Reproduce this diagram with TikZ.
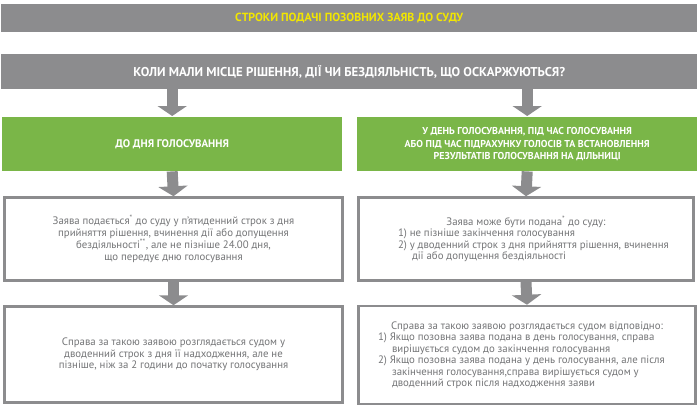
\documentclass[tikz,border=0pt]{standalone}
\usepackage{fontspec}
\setmainfont{PT Sans}
\usetikzlibrary{arrows.meta,positioning,calc}
\definecolor{bargray}{HTML}{8C8C8E}
\definecolor{boxgreen}{HTML}{7AB648}
\definecolor{titleyellow}{HTML}{F2E600}
\definecolor{textgray}{HTML}{747577}

\begin{document}
\begin{tikzpicture}[x=1pt, y=-1pt,
  bar/.style={fill=bargray, text=white, inner sep=0pt, anchor=north west,
    minimum width=696pt, font=\bfseries\fontsize{12.8}{14}\selectfont},
  head/.style={fill=boxgreen, text=white, inner sep=0pt, anchor=north west,
    minimum width=340pt, minimum height=54pt, align=center,
    font=\bfseries\fontsize{10}{12.5}\selectfont},
  note/.style={draw=bargray, line width=2.5pt, fill=white, text=textgray,
    inner sep=0pt, anchor=north west,
    font=\fontsize{10.8}{11.5}\selectfont},
  down/.style={draw=bargray, line width=11pt, -{Triangle[width=29pt,length=10pt]}}]
\useasboundingbox (0,0) rectangle (697,405);

% headers
\node[bar, minimum height=28pt, text=titleyellow,
  font=\bfseries\fontsize{11.8}{13}\selectfont] (title) at (1,4)
  {СТРОКИ ПОДАЧІ ПОЗОВНИХ ЗАЯВ ДО СУДУ};
\node[bar, minimum height=35pt] (ask) at (1,54)
  {КОЛИ МАЛИ МІСЦЕ РІШЕННЯ, ДІЇ ЧИ БЕЗДІЯЛЬНІСТЬ, ЩО ОСКАРЖУЮТЬСЯ?};

% two cases
\node[head, font=\bfseries\fontsize{11}{12.5}\selectfont] (before) at (2,117)
  {ДО ДНЯ ГОЛОСУВАННЯ};
\node[head] (onday) at (357,117)
  {У ДЕНЬ ГОЛОСУВАННЯ, ПІД ЧАС ГОЛОСУВАННЯ\\
   АБО ПІД ЧАС ПІДРАХУНКУ ГОЛОСІВ ТА ВСТАНОВЛЕННЯ\\
   РЕЗУЛЬТАТІВ ГОЛОСУВАННЯ НА ДІЛЬНИЦІ};

% when to file
\node[note, align=center, minimum width=338pt, minimum height=83pt] (filebefore) at (3.25,196.25)
  {Заява подається\textsuperscript{*} до суду у п’ятиденний строк з дня\\
   прийняття рішення, вчинення дії або допущення\\
   бездіяльності\textsuperscript{**}, але не пізніше 24.00 дня,\\
   що передує дню голосування};
\node[note, minimum width=335pt, minimum height=83pt] (fileonday) at (357.25,196.25)
  {\parbox{334pt}{\centering Заява може бути подана\textsuperscript{*} до суду:\par
   \raggedright
   \hspace*{39pt}1) не пізніше закінчення голосування\newline
   \hspace*{39pt}2) у дводенний строк з дня прийняття рішення, вчинення\newline
   \hspace*{53pt}дії або допущення бездіяльності\par}};

% how it is heard
\node[note, align=center, minimum width=338pt, minimum height=96pt] (hearbefore) at (3.25,305.25)
  {Справа за такою заявою розглядається судом у\\
   дводенний строк з дня її надходження, але не\\
   пізніше, ніж за 2 години до початку голосування};
\node[note, minimum width=337pt, minimum height=98pt] (hearonday) at (357.25,304.75)
  {\parbox{334pt}{\centering Справа за такою заявою розглядається судом відповідно:\par
   \raggedright
   \hspace*{18pt}1) Якщо позовна заява подана в день голосування, справа\newline
   \hspace*{32pt}вирішується судом до закінчення голосування\newline
   \hspace*{18pt}2) Якщо позовна заява подана у день голосування, але після\newline
   \hspace*{32pt}закінчення голосування,справа вирішується судом у\newline
   \hspace*{32pt}дводенний строк після надходження заяви\par}};

% arrows
\draw[down] (ask.south -| before.north) -- ([yshift=1pt]before.north);
\draw[down] (ask.south -| onday.north) -- ([yshift=1pt]onday.north);
\draw[down] (before.south) -- (filebefore.north);
\draw[down] (onday.south) -- (fileonday.north);
\draw[down] (filebefore.south) -- (hearbefore.north);
\draw[down] (fileonday.south) -- (hearonday.north);
\end{tikzpicture}
\end{document}
